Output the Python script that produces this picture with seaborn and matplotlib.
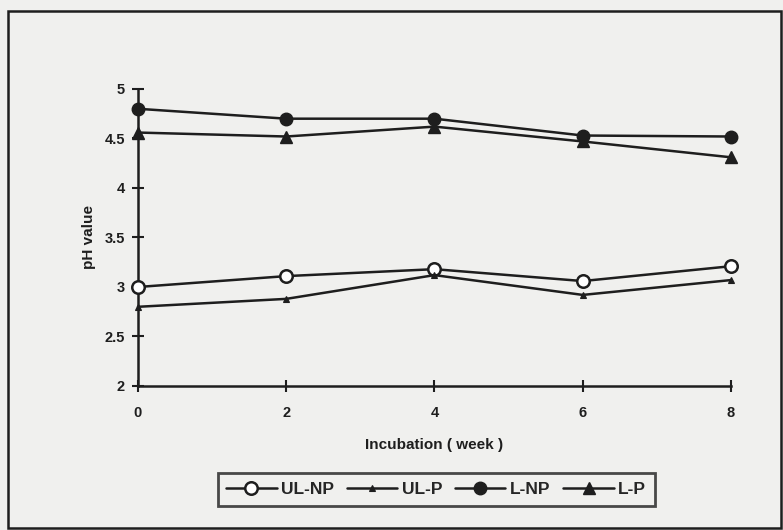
import matplotlib
matplotlib.use("Agg")
import matplotlib.pyplot as plt
import seaborn as sns
import pandas as pd
from matplotlib.patches import Rectangle

# Data
weeks = [0, 2, 4, 6, 8]
ul_np = [3.00, 3.11, 3.18, 3.06, 3.21]
ul_p = [2.80, 2.88, 3.12, 2.92, 3.07]
l_np = [4.80, 4.70, 4.70, 4.53, 4.52]
l_p = [4.56, 4.52, 4.62, 4.47, 4.31]
series_names = ["UL-NP", "UL-P", "L-NP", "L-P"]
y_ticks = [2, 2.5, 3, 3.5, 4, 4.5, 5]
y_tick_labels = ["2", "2.5", "3", "3.5", "4", "4.5", "5"]

df = pd.DataFrame({
    "week": weeks * 4,
    "ph": ul_np + ul_p + l_np + l_p,
    "series": [s for s in series_names for _ in weeks],
})

sns.set_theme(style="white")
plt.rcParams.update({
    "font.family": ["Liberation Sans", "DejaVu Sans"],
    "font.weight": "bold",
    "axes.labelweight": "bold",
})

BG = "#f0f0ee"
INK = "#1e1e1e"

styles = {
    "UL-NP": dict(marker="o", markersize=9, markerfacecolor="white", markeredgewidth=1.8),
    "UL-P": dict(marker="^", markersize=4, markerfacecolor=INK, markeredgewidth=0.8),
    "L-NP": dict(marker="o", markersize=9, markerfacecolor=INK, markeredgewidth=1.0),
    "L-P": dict(marker="^", markersize=9, markerfacecolor=INK, markeredgewidth=1.0),
}

fig = plt.figure(figsize=(7.83, 5.30), dpi=100, facecolor=BG)
ax = fig.add_axes([0.1762, 0.2717, 0.7574, 0.5604])
ax.set_facecolor(BG)

for name in series_names:
    sub = df[df["series"] == name]
    sns.lineplot(data=sub, x="week", y="ph", ax=ax, color=INK, linewidth=1.8,
                 markeredgecolor=INK, label=name, clip_on=False, zorder=3,
                 **styles[name])

ax.set_xlim(0, 8)
ax.set_ylim(2, 5)
ax.set_xticks(weeks)
ax.set_yticks(y_ticks)
ax.set_yticklabels(y_tick_labels)
for sp in ["top", "right"]:
    ax.spines[sp].set_visible(False)
for sp in ["left", "bottom"]:
    ax.spines[sp].set_color(INK)
    ax.spines[sp].set_linewidth(1.8)
ax.tick_params(axis="both", direction="inout", length=9, width=1.5, colors=INK,
               labelsize=10.5, left=True, bottom=True)
ax.tick_params(axis="x", pad=10)
ax.tick_params(axis="y", pad=5)
for lab in ax.get_xticklabels() + ax.get_yticklabels():
    lab.set_fontweight("bold")

ax.set_xlabel("Incubation ( week )", fontsize=11, labelpad=13, color=INK)
ax.set_ylabel("pH value", fontsize=11, labelpad=6, color=INK)

handles, labels = ax.get_legend_handles_labels()
ax.get_legend().remove()
leg = fig.legend(handles, labels, loc="center", bbox_to_anchor=(0.557, 0.076),
                 ncol=4, frameon=True, fancybox=False, handlelength=2.9,
                 handletextpad=0.25, columnspacing=0.75, borderpad=0.5,
                 borderaxespad=0, prop={"weight": "bold", "size": 12.5})
leg.get_frame().set_edgecolor(INK)
leg.get_frame().set_linewidth(2.0)
leg.get_frame().set_facecolor(BG)

# outer frame of the figure
fig.patches.append(Rectangle((0.010, 0.004), 0.988, 0.976, transform=fig.transFigure,
                             fill=False, edgecolor=INK, linewidth=1.8))

fig.savefig("out.png", dpi=100, facecolor=BG)
